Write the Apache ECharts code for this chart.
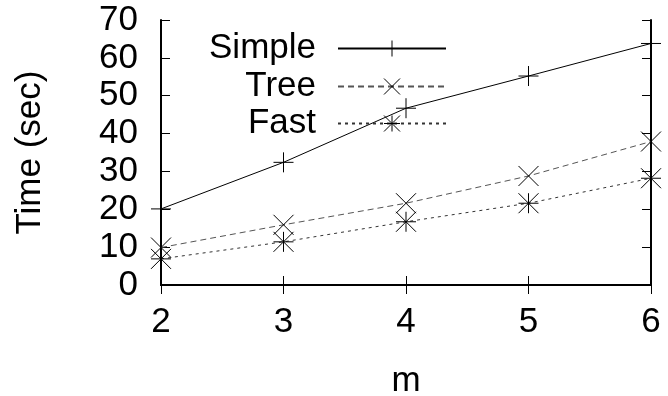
<!DOCTYPE html>
<html>
<head>
<meta charset="utf-8">
<script src="https://cdn.jsdelivr.net/npm/echarts@6/dist/echarts.min.js"></script>
<style>html,body{margin:0;padding:0;background:#fff;}#c{width:668px;height:396px;}</style>
</head>
<body>
<div id="c"></div>
<script>
const mValues = [2, 3, 4, 5, 6];
const simpleTimes = [20.1, 32.4, 46.7, 55.2, 63.8];
const treeTimes = [9.9, 15.9, 21.6, 28.8, 37.9];
const fastTimes = [6.9, 11.4, 16.7, 21.6, 28.2];
const yTicks = [0, 10, 20, 30, 40, 50, 60, 70];
const xTicks = [2, 3, 4, 5, 6];
const seriesNames = ['Simple', 'Tree', 'Fast'];

const FONT = 'Liberation Sans, Arial, sans-serif';
const FS = 35;
const plusSym = 'path://M10,0 L10,20 M0,10 L20,10';
const crossSym = 'path://M0,0 L20,20 M20,0 L0,20';
const starSym = 'path://M0,0 L20,20 M20,0 L0,20 M10,0 L10,20 M0,10 L20,10';

function pairs(ys) { return mValues.map((x, i) => [x, ys[i]]); }

const chart = echarts.init(document.getElementById('c'), null, {renderer: 'canvas'});
const axisLine = {show: true, lineStyle: {color: '#000', width: 2}};
const tick = {show: true, inside: true, length: 9, lineStyle: {color: '#000', width: 1}};

function mkSeries(name, data, sym, lineStyle) {
  return {
    name: name, type: 'line', data: pairs(data),
    symbol: sym, symbolSize: 20, showSymbol: true,
    lineStyle: lineStyle,
    itemStyle: {color: 'rgba(0,0,0,0)', borderColor: '#000', borderWidth: 1},
    emphasis: {disabled: true}, animation: false
  };
}
function mkLegend(name, top) {
  return {
    data: [name], right: 221, top: top, orient: 'vertical', align: 'right',
    padding: 0, itemWidth: 108, itemHeight: 20, selectedMode: false,
    itemStyle: {color: 'rgba(0,0,0,0)', borderColor: '#000', borderWidth: 1},
    textStyle: {fontSize: FS, fontFamily: FONT, color: '#000', padding: [0, 17, 0, 0]}
  };
}

chart.setOption({
  backgroundColor: '#fff',
  animation: false,
  grid: {left: 161, right: 17, top: 20, bottom: 111, containLabel: false, outerBoundsMode: 'none'},
  legend: [mkLegend(seriesNames[0], 31), mkLegend(seriesNames[1], 69), mkLegend(seriesNames[2], 106)],
  xAxis: [{
    type: 'value', min: xTicks[0], max: xTicks[xTicks.length - 1], interval: 1,
    name: 'm', nameLocation: 'middle', nameGap: 79,
    nameTextStyle: {fontSize: FS, fontFamily: FONT, color: '#000'},
    axisLine: axisLine, axisTick: tick, splitLine: {show: false},
    axisLabel: {fontSize: FS, fontFamily: FONT, color: '#000', margin: 20}
  }, {
    type: 'value', position: 'top', min: xTicks[0], max: xTicks[xTicks.length - 1], interval: 1,
    axisLine: axisLine, axisTick: tick, splitLine: {show: false}, axisLabel: {show: false}
  }],
  yAxis: [{
    type: 'value', min: yTicks[0], max: yTicks[yTicks.length - 1], interval: 10,
    name: 'Time (sec)', nameLocation: 'middle', nameGap: 113,
    nameTextStyle: {fontSize: FS, fontFamily: FONT, color: '#000'},
    axisLine: axisLine, axisTick: tick, splitLine: {show: false},
    axisLabel: {fontSize: FS, fontFamily: FONT, color: '#000', margin: 23}
  }, {
    type: 'value', position: 'right', min: yTicks[0], max: yTicks[yTicks.length - 1], interval: 10,
    axisLine: axisLine, axisTick: tick, splitLine: {show: false}, axisLabel: {show: false}
  }],
  series: [
    mkSeries(seriesNames[0], simpleTimes, plusSym, {color: '#000', width: 1, type: 'solid'}),
    mkSeries(seriesNames[1], treeTimes, crossSym, {color: '#555', width: 1, type: [6, 4]}),
    mkSeries(seriesNames[2], fastTimes, starSym, {color: '#333', width: 1, type: [3, 4]})
  ]
});
</script>
</body>
</html>
